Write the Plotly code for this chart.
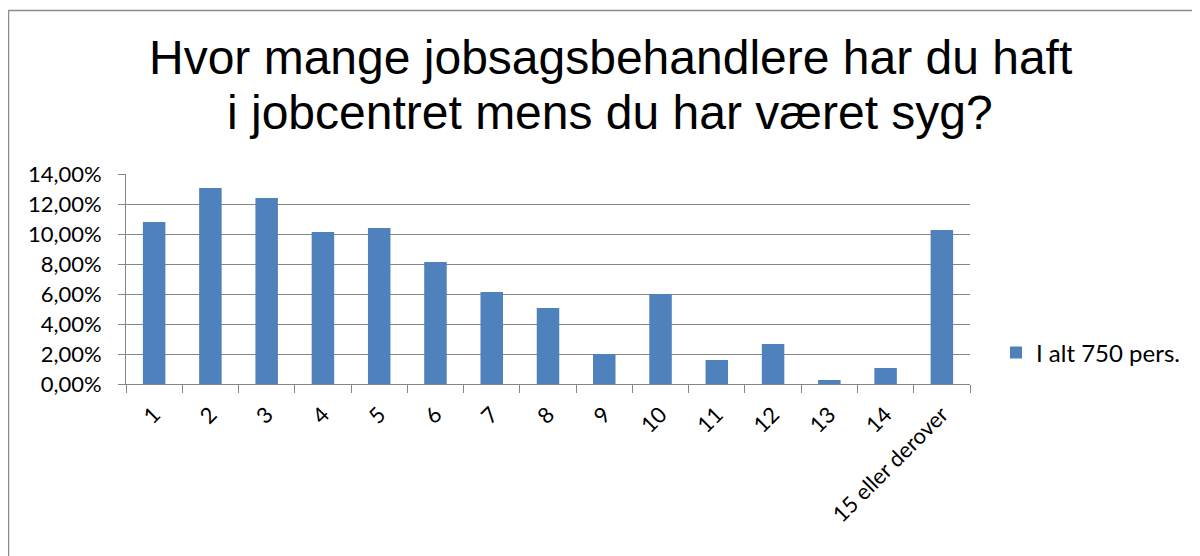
import plotly.graph_objects as go

categories = ["1", "2", "3", "4", "5", "6", "7", "8", "9", "10", "11", "12", "13", "14", "15 eller derover"]
counts = [81, 98, 93, 76, 78, 61, 46, 38, 15, 45, 12, 20, 2, 8, 77]
total = 750
values = [c / total for c in counts]
series_name = "I alt 750 pers."
title_lines = ["Hvor mange jobsagsbehandlere har du haft", "i jobcentret mens du har været syg?"]
y_ticks = [0, 0.02, 0.04, 0.06, 0.08, 0.10, 0.12, 0.14]

# page offset from default body margin
OFF = 8
W, H = 1192, 548
L, T = 126 - OFF, 174 - OFF
R = W - (970 - OFF)
B = H - (384 - OFF)
pw, ph = W - L - R, H - T - B

def px_x(p):
    return (p - OFF - L) / pw

def px_y(p):
    return (H - B - (p - OFF)) / ph

TICK_FONT = "Lato, 'Liberation Sans', sans-serif"

fig = go.Figure()
fig.add_trace(go.Bar(
    x=categories, y=values, name=series_name,
    marker=dict(color="#4F81BD", line=dict(width=0)),
    showlegend=True,
))

annotations = []
for line, cy in zip(title_lines, [57, 113]):
    annotations.append(dict(
        text=line, showarrow=False,
        xref="paper", yref="paper",
        x=px_x(610), y=px_y(cy), xanchor="center", yanchor="middle",
        font=dict(family="'Liberation Sans', Arial, sans-serif", size=48, color="black"),
    ))

fig.update_layout(
    width=W, height=H,
    margin=dict(l=L, r=R, t=T, b=B, autoexpand=False),
    paper_bgcolor="white", plot_bgcolor="white",
    separators=",.",
    bargap=0.6,
    font=dict(family=TICK_FONT, size=22, color="black"),
    showlegend=True,
    legend=dict(
        x=px_x(996), y=px_y(353), xanchor="left", yanchor="middle",
        font=dict(family=TICK_FONT, size=24, color="black"),
        bgcolor="rgba(0,0,0,0)", itemwidth=30,
    ),
    xaxis=dict(
        type="category",
        showline=True, linecolor="#868686", linewidth=1,
        ticks="outside", tickson="boundaries", ticklen=8, tickcolor="#868686",
        tickangle=-45, showgrid=False, ticklabelstandoff=8,
        tickfont=dict(family=TICK_FONT, size=22),
    ),
    yaxis=dict(
        range=[0, 0.14], tickvals=y_ticks, tickformat=".2%",
        showline=True, linecolor="#868686", linewidth=1,
        ticks="outside", ticklen=7, tickcolor="#868686",
        showgrid=True, gridcolor="#868686", gridwidth=1,
        zeroline=False, ticklabelstandoff=12,
        tickfont=dict(family=TICK_FONT, size=22),
    ),
    annotations=annotations,
    shapes=[dict(
        type="rect", xref="paper", yref="paper",
        x0=px_x(8.5), x1=px_x(1220), y0=px_y(580), y1=px_y(10.5),
        line=dict(color="#8c8c8c", width=1.5), fillcolor="rgba(0,0,0,0)", layer="below",
    )],
)

fig.write_html("out.html")
